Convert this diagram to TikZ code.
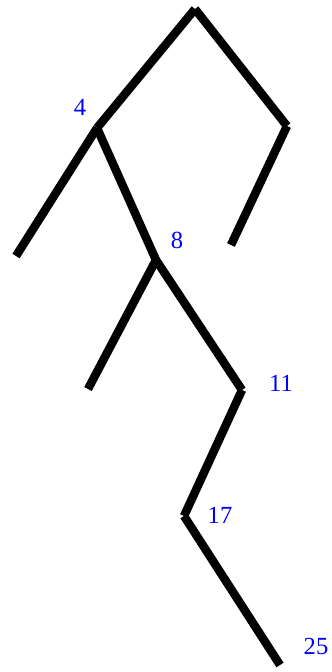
\documentclass[tikz,border=0pt]{standalone}
\usepackage{fontspec}
\setmainfont{Liberation Serif}
\usepackage{tikz}
\usetikzlibrary{positioning}
\definecolor{keyblue}{HTML}{0000FF}

\begin{document}
\begin{tikzpicture}[
    x=0.02cm, y=-0.02cm,
    every node/.style={font=\fontsize{14}{16}\selectfont},
    edge/.style={line width=0.17cm, line cap=butt, color=black},
    key/.style={color=keyblue, inner sep=0pt}
]
\useasboundingbox (0,0) rectangle (331,672);

% tree points
\coordinate (root) at (195,9);
\coordinate (n4)   at (97,128);
\coordinate (rr)   at (287,126);
\coordinate (l4)   at (16,256);
\coordinate (n8)   at (156,260);
\coordinate (lr)   at (231,245);
\coordinate (l8)   at (88,389);
\coordinate (n11)  at (242,390);
\coordinate (n17)  at (184,516);
\coordinate (n25)  at (280,665);

\draw[edge] (root) -- (n4);
\draw[edge] (root) -- (rr);
\draw[edge] (n4) -- (l4);
\draw[edge] (n4) -- (n8);
\draw[edge] (rr) -- (lr);
\draw[edge] (n8) -- (l8);
\draw[edge] (n8) -- (n11);
\draw[edge] (n11) -- (n17);
\draw[edge] (n17) -- (n25);

% keys
\node[key] (k4)  at (80,107)  {4};
\node[key] (k8)  at (177,240) {8};
\node[key] (k11) at (281,383) {11};
\node[key] (k17) at (220,515) {17};
\node[key] (k25) at (316,646) {25};

\end{tikzpicture}
\end{document}
